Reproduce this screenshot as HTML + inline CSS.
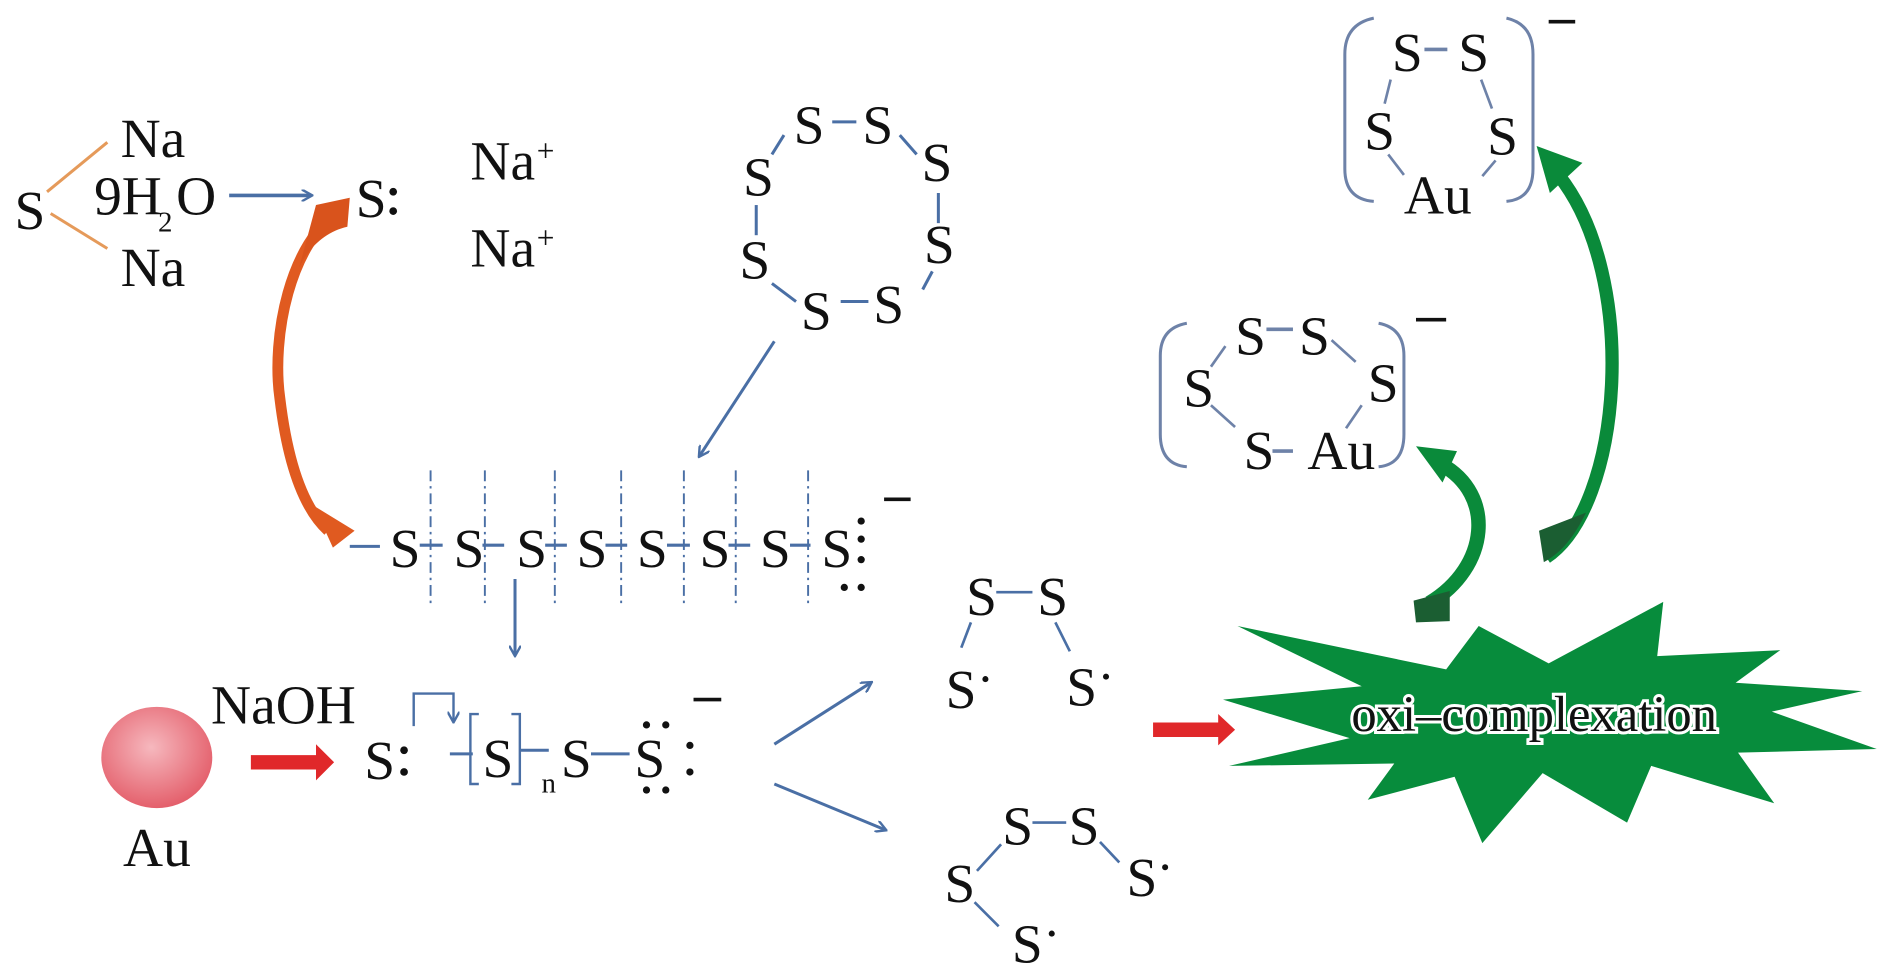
<!DOCTYPE html>
<html><head><meta charset="utf-8"><style>
html,body{margin:0;padding:0;background:#fff;}
svg{display:block;}
svg text{font-family:"Liberation Serif","Times New Roman",serif;fill:#111;}
</style></head><body>
<svg width="1890" height="977" viewBox="0 0 1567 810" preserveAspectRatio="none" xmlns="http://www.w3.org/2000/svg">
<defs>
<radialGradient id="au" cx="0.45" cy="0.4" r="0.6">
<stop offset="0" stop-color="#f6b8be"/><stop offset="1" stop-color="#e4606c"/></radialGradient>
<marker id="ba" markerWidth="10" markerHeight="10" refX="8" refY="5" orient="auto" markerUnits="userSpaceOnUse">
<path d="M0,0 L9,5 L0,10" fill="none" stroke="#4a6fa5" stroke-width="2"/></marker>
</defs>
<g font-size="46" font-family="Liberation Serif, serif">
<text x="12" y="190">S</text>
<line x1="39" y1="159" x2="89" y2="118" stroke="#e59a5a" stroke-width="2.5"/>
<line x1="42" y1="177" x2="89" y2="206" stroke="#e59a5a" stroke-width="2.5"/>
<text x="100" y="130">Na</text>
<text x="100" y="237">Na</text>
<text x="78" y="178">9H</text><text x="131" y="192" font-size="24">2</text><text x="146" y="178">O</text>
<line x1="190" y1="162" x2="258" y2="162" stroke="#4a6fa5" stroke-width="3" marker-end="url(#ba)"/>
<text x="295" y="180">S</text>
<circle cx="326" cy="159" r="3.2" fill="#111"/><circle cx="326" cy="175" r="3.2" fill="#111"/>
<text x="390" y="149">Na</text><text x="445" y="134" font-size="26">+</text>
<text x="390" y="221">Na</text><text x="445" y="206" font-size="26">+</text>

<g stroke="#4a6fa5" stroke-width="2.5">
<line x1="690" y1="101" x2="710" y2="101"/>
<line x1="650" y1="112" x2="640" y2="128"/>
<line x1="746" y1="112" x2="760" y2="128"/>
<line x1="627" y1="170" x2="627" y2="195"/>
<line x1="778" y1="160" x2="778" y2="185"/>
<line x1="640" y1="235" x2="660" y2="250"/>
<line x1="773" y1="225" x2="765" y2="240"/>
<line x1="697" y1="250" x2="720" y2="250"/>
</g>
<text x="658" y="119">S</text><text x="715" y="119">S</text>
<text x="616" y="162">S</text><text x="764" y="150">S</text>
<text x="613" y="231">S</text><text x="766" y="218">S</text>
<text x="664" y="273">S</text><text x="724" y="268">S</text>
<line x1="642" y1="283" x2="580" y2="378" stroke="#4a6fa5" stroke-width="2.5" marker-end="url(#ba)"/>

<path d="M283,174 C240,200 225,280 232,330 C238,380 250,420 272,440" fill="none" stroke="#e05a20" stroke-width="9"/>
<path d="M262,170 L290,164 L288,188 C270,192 256,205 248,222 Z" fill="#d9531c"/>
<path d="M258,418 L294,440 L276,454 L266,432 Z" fill="#e05a20"/>

<g stroke="#4a6fa5" stroke-width="1.6" stroke-dasharray="9,4,2,4">
<line x1="357" y1="390" x2="357" y2="500"/><line x1="402" y1="390" x2="402" y2="500"/>
<line x1="460" y1="390" x2="460" y2="500"/><line x1="515" y1="390" x2="515" y2="500"/>
<line x1="567" y1="390" x2="567" y2="500"/><line x1="610" y1="390" x2="610" y2="500"/>
<line x1="670" y1="390" x2="670" y2="500"/>
</g>
<g stroke="#4a6fa5" stroke-width="2.5">
<line x1="290" y1="453" x2="315" y2="453"/>
<line x1="348" y1="452" x2="367" y2="452"/><line x1="400" y1="452" x2="418" y2="452"/>
<line x1="452" y1="452" x2="470" y2="452"/><line x1="502" y1="452" x2="520" y2="452"/>
<line x1="553" y1="452" x2="572" y2="452"/><line x1="604" y1="452" x2="622" y2="452"/>
<line x1="655" y1="452" x2="672" y2="452"/>
</g>
<text x="323" y="470">S</text><text x="376" y="470">S</text><text x="428" y="470">S</text>
<text x="478" y="470">S</text><text x="528" y="470">S</text><text x="580" y="470">S</text>
<text x="630" y="470">S</text><text x="681" y="470">S</text>
<g fill="#111"><circle cx="714" cy="432" r="3"/><circle cx="714" cy="447" r="3"/><circle cx="714" cy="464" r="3"/>
<circle cx="700" cy="487" r="3"/><circle cx="714" cy="487" r="3"/></g>
<line x1="733" y1="414" x2="755" y2="414" stroke="#111" stroke-width="3"/>
<line x1="427" y1="480" x2="427" y2="543" stroke="#4a6fa5" stroke-width="2.5" marker-end="url(#ba)"/>

<ellipse cx="130" cy="628" rx="46" ry="42" fill="url(#au)"/>
<text x="102" y="718">Au</text>
<text x="175" y="600">NaOH</text>
<path d="M208,626 L262,626 L262,617 L277,632 L262,647 L262,638 L208,638 Z" fill="#e0282a"/>
<text x="302" y="646">S</text>
<circle cx="335" cy="622" r="3.2" fill="#111"/><circle cx="335" cy="640" r="3.2" fill="#111"/>
<path d="M343,602 L343,575 L376,575 L376,598" fill="none" stroke="#4a6fa5" stroke-width="2" marker-end="url(#ba)"/>
<path d="M397,592 L390,592 L390,650 L397,650 M424,592 L431,592 L431,650 L424,650" fill="none" stroke="#4a6fa5" stroke-width="2"/>
<g stroke="#4a6fa5" stroke-width="2.5">
<line x1="373" y1="625" x2="392" y2="625"/><line x1="431" y1="622" x2="455" y2="622"/>
<line x1="490" y1="625" x2="522" y2="625"/></g>
<text x="400" y="644">S</text>
<text x="449" y="657" font-size="24">n</text>
<text x="465" y="644">S</text>
<text x="526" y="644">S</text>
<g fill="#111"><circle cx="536" cy="601" r="3"/><circle cx="552" cy="601" r="3"/>
<circle cx="572" cy="618" r="3"/><circle cx="572" cy="640" r="3"/>
<circle cx="536" cy="655" r="3"/><circle cx="552" cy="655" r="3"/></g>
<line x1="575" y1="580" x2="598" y2="580" stroke="#111" stroke-width="3"/>
<line x1="642" y1="617" x2="722" y2="566" stroke="#4a6fa5" stroke-width="2.5" marker-end="url(#ba)"/>
<line x1="642" y1="650" x2="734" y2="688" stroke="#4a6fa5" stroke-width="2.5" marker-end="url(#ba)"/>

<g stroke="#4a6fa5" stroke-width="2.2">
<line x1="826" y1="491" x2="856" y2="491"/>
<line x1="805" y1="516" x2="797" y2="537"/><line x1="875" y1="516" x2="887" y2="540"/>
<line x1="856" y1="682" x2="884" y2="682"/>
<line x1="830" y1="700" x2="810" y2="722"/><line x1="912" y1="698" x2="928" y2="715"/>
<line x1="808" y1="748" x2="828" y2="768"/>
</g>
<text x="801" y="510">S</text><text x="860" y="510">S</text>
<text x="784" y="587">S</text><circle cx="817" cy="563" r="2.5" fill="#111"/>
<text x="884" y="585">S</text><circle cx="917" cy="561" r="2.5" fill="#111"/>
<text x="831" y="700">S</text><text x="886" y="700">S</text>
<text x="783" y="748">S</text>
<text x="934" y="743">S</text><circle cx="966" cy="719" r="2.5" fill="#111"/>
<text x="839" y="798">S</text><circle cx="872" cy="774" r="2.5" fill="#111"/>
<path d="M956,599 L1010,599 L1010,592 L1024,605 L1010,618 L1010,611 L956,611 Z" fill="#e0282a"/>

<polygon points="1026,519 1199,555 1226,519 1284,550 1379,499 1374,544 1476,539 1439,566 1544,573 1469,590 1556,621 1441,624 1471,666 1369,635 1349,682 1279,641 1229,699 1206,644 1134,663 1156,633 1019,635 1119,612 1014,580 1129,569" fill="#078c3c"/>
<text x="1272" y="606" text-anchor="middle" font-size="42" stroke="#fff" stroke-width="5" paint-order="stroke" style="fill:#111">oxi–complexation</text>

<path d="M1185,500 C1235,470 1240,410 1195,385" fill="none" stroke="#0a8a3a" stroke-width="12"/>
<path d="M1172,498 L1202,490 L1202,515 L1174,516 Z" fill="#1b5e32"/>
<path d="M1174,370 L1208,374 L1196,400 Z" fill="#0a8a3a"/>
<path d="M1282,462 C1345,420 1360,230 1292,145" fill="none" stroke="#0a8a3a" stroke-width="11"/>
<path d="M1276,440 L1315,425 C1305,445 1295,458 1280,466 Z" fill="#1b5e32"/>
<path d="M1274,121 L1312,135 L1285,160 Z" fill="#0a8a3a"/>

<g fill="none" stroke="#6e82a8" stroke-width="2.5">
<path d="M1139,15 Q1115,20 1115,45 L1115,140 Q1115,165 1139,167"/>
<path d="M1249,15 Q1271,20 1271,45 L1271,140 Q1271,165 1249,167"/>
<path d="M984,268 Q962,272 962,295 L962,360 Q962,385 984,387"/>
<path d="M1143,268 Q1164,272 1164,295 L1164,360 Q1164,385 1143,387"/>
</g>
<line x1="1284" y1="18" x2="1306" y2="18" stroke="#111" stroke-width="3"/>
<line x1="1174" y1="265" x2="1199" y2="265" stroke="#111" stroke-width="3"/>
<g stroke="#6e82a8" stroke-width="2.2">
<line x1="1181" y1="41" x2="1200" y2="41" stroke-width="3"/>
<line x1="1153" y1="66" x2="1148" y2="86"/><line x1="1228" y1="66" x2="1237" y2="90"/>
<line x1="1151" y1="128" x2="1164" y2="145"/><line x1="1240" y1="133" x2="1229" y2="146"/>
<line x1="1050" y1="273" x2="1072" y2="273" stroke-width="3"/>
<line x1="1016" y1="287" x2="1004" y2="304"/><line x1="1104" y1="282" x2="1124" y2="300"/>
<line x1="1004" y1="336" x2="1024" y2="354"/><line x1="1129" y1="336" x2="1116" y2="355"/>
<line x1="1055" y1="374" x2="1072" y2="374" stroke-width="3"/>
</g>
<text x="1154" y="59">S</text><text x="1209" y="59">S</text>
<text x="1131" y="124">S</text><text x="1233" y="128">S</text>
<text x="1164" y="177">Au</text>
<text x="1024" y="294">S</text><text x="1077" y="294">S</text>
<text x="981" y="337">S</text><text x="1134" y="333">S</text>
<text x="1031" y="389">S</text><text x="1084" y="389">Au</text>
</g>
</svg>
</body></html>
